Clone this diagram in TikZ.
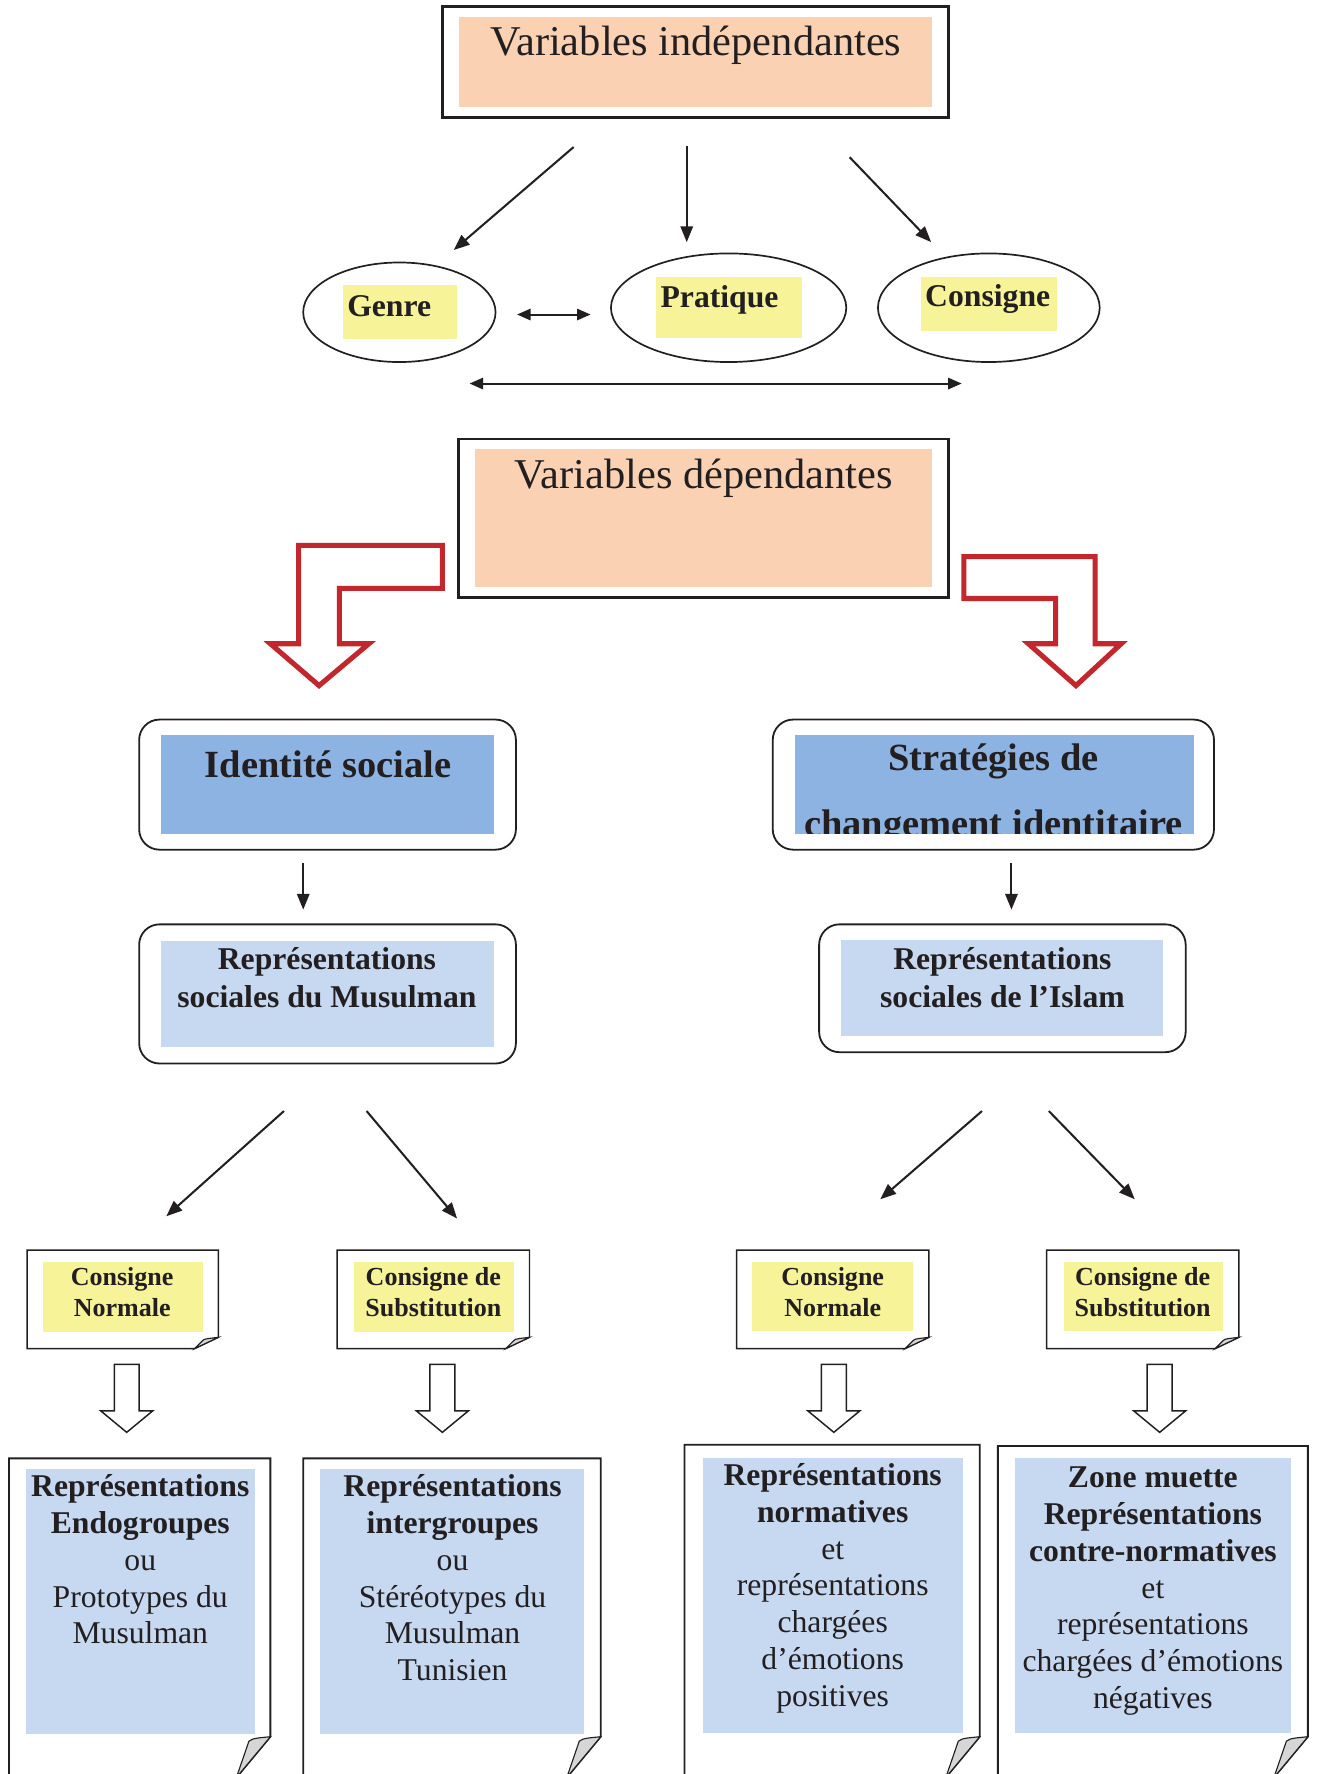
\documentclass[tikz,border=0pt]{standalone}
\usepackage{fontspec}
\setmainfont{Liberation Serif}
\usetikzlibrary{arrows.meta}
\usetikzlibrary{shapes.geometric}

\definecolor{peach}{RGB}{250,210,179}
\definecolor{lemon}{RGB}{246,243,153}
\definecolor{midblue}{RGB}{141,179,226}
\definecolor{paleblue}{RGB}{198,217,241}
\definecolor{redline}{RGB}{193,39,45}
\definecolor{ink}{RGB}{35,31,32}
\definecolor{flap}{RGB}{214,214,214}

\tikzset{
  arr/.style={-{Triangle[length=14pt,width=11pt]}, line width=1.8pt, draw=ink},
  dbl/.style={{Triangle[length=12pt,width=10pt]}-{Triangle[length=12pt,width=10pt]}, line width=1.8pt, draw=ink},
  frame/.style={draw=ink, line width=1.6pt},
  hollow/.style={draw=ink, line width=1.3pt, fill=white, line join=miter},
  redarrow/.style={draw=redline, line width=4.5pt, fill=white, line join=miter},
  oval/.style={ellipse, draw=ink, line width=1.5pt, inner sep=0pt},
  fold/.style={fill=flap, draw=ink, line width=1pt},
  title/.style={font=\fontsize{37.5}{44}\selectfont, text=ink, inner sep=0pt, anchor=base},
  varbf/.style={font=\bfseries\fontsize{28}{33}\selectfont, text=ink, inner sep=0pt, anchor=base},
  headbf/.style={font=\bfseries\fontsize{34}{40}\selectfont, text=ink, inner sep=0pt, anchor=base},
  subbf/.style={font=\bfseries\fontsize{28}{33.5}\selectfont, text=ink, inner sep=0pt, anchor=base, align=center},
  notebf/.style={font=\bfseries\fontsize{23}{28}\selectfont, text=ink, inner sep=0pt, anchor=base, align=center},
  reptext/.style={font=\fontsize{28}{32.5}\selectfont, text=ink, inner sep=0pt, anchor=base, align=center}
}

\begin{document}
\begin{tikzpicture}[x=1pt,y=-1pt]

\useasboundingbox (0,0) rectangle (1164,1568);

\draw [frame, line width=2.5pt] (391,6) rectangle (838,104);
\fill [peach] (406,15) rectangle (824,95);
\node[title] (vi) at (615,49) {Variables indépendantes};

\coordinate (s1) at (507,130);
\coordinate (e1) at (401,221);
\coordinate (s2) at (607,129);
\coordinate (e2) at (607,214);
\coordinate (s3) at (751,139);
\coordinate (e3) at (823,214);

\draw [arr] (s1) -- (e1);
\draw [arr] (s2) -- (e2);
\draw [arr] (s3) -- (e3);

\node[oval, minimum width=170pt, minimum height=88pt] (genre) at (353,276) {};
\node[oval, minimum width=208pt, minimum height=96pt] (pratique) at (644,272) {};
\node[oval, minimum width=196pt, minimum height=96pt] (consigne) at (874,272) {};

\fill [lemon] (303,252) rectangle (404,300);
\fill [lemon] (580,245) rectangle (709,299);
\fill [lemon] (814,245) rectangle (934,293);

\node[varbf] (tgenre) at (344,280) {Genre};
\node[varbf] (tpratique) at (636,272) {Pratique};
\node[varbf] (tconsigne) at (873,271) {Consigne};

\coordinate (d1) at (457,278);
\coordinate (d2) at (522,278);
\coordinate (d3) at (415,339);
\coordinate (d4) at (850,339);

\draw [dbl] (d1) -- (d2);
\draw [dbl] (d3) -- (d4);

\draw [frame, line width=2.5pt] (405,388) rectangle (838,528);
\fill [peach] (420,397) rectangle (824,519);
\node[title] (vd) at (622,432) {Variables dépendantes};

\draw [redarrow] (391,482) -- (264,482) -- (264,569) -- (239,569) -- (282,606) -- (326,569) -- (300,569) -- (300,520) -- (391,520) -- cycle;
\draw [redarrow] (852,492) -- (968,492) -- (968,569) -- (991,569) -- (951,606) -- (909,569) -- (933,569) -- (933,529) -- (852,529) -- cycle;

\draw [frame, rounded corners=18pt] (123,636) rectangle (456,751);
\fill [midblue] (142,650) rectangle (437,737);
\node[headbf] (idsoc) at (290,687) {Identité sociale};

\draw [frame, rounded corners=18pt] (683,636) rectangle (1073,751);
\fill [midblue] (703,650) rectangle (1055,737);
\node[headbf] (strat) at (878,681) {Stratégies de};
\begin{scope}
\clip (703,650) rectangle (1055,737);
\node[headbf] (chid) at (878,739) {changement identitaire};
\end{scope}

\coordinate (s4) at (268,763);
\coordinate (e4) at (268,804);
\coordinate (s5) at (894,763);
\coordinate (e5) at (894,804);

\draw [arr] (s4) -- (e4);
\draw [arr] (s5) -- (e5);

\draw [frame, rounded corners=18pt] (123,817) rectangle (456,940);
\fill [paleblue] (142,832) rectangle (437,925);
\node[subbf] (rsm) at (289,890.5) {Représentations\\sociales du Musulman};

\draw [frame, rounded corners=18pt] (724,817) rectangle (1048,930);
\fill [paleblue] (743,831) rectangle (1028,916);
\node[subbf] (rsi) at (886,890.5) {Représentations\\sociales de l’Islam};

\coordinate (s6) at (251,982);
\coordinate (e6) at (147,1075);
\coordinate (s7) at (324,982);
\coordinate (e7) at (404,1077);
\coordinate (s8) at (868,982);
\coordinate (e8) at (778,1060);
\coordinate (s9) at (927,982);
\coordinate (e9) at (1003,1060);

\draw [arr] (s6) -- (e6);
\draw [arr] (s7) -- (e7);
\draw [arr] (s8) -- (e8);
\draw [arr] (s9) -- (e9);

\draw [frame, line width=1.3pt] (24,1105) -- (193,1105) -- (193,1182) -- (172,1192) -- (24,1192) -- cycle;
\fill [lemon] (38,1115) rectangle (179,1177);
\draw [fold] (193,1182) .. controls (186,1183) and (180,1183) .. (179,1185) -- (172,1192) -- cycle;
\node[notebf] (cn1) at (108,1164) {Consigne\\Normale};

\draw [frame, line width=1.3pt] (298,1105) -- (468,1105) -- (468,1182) -- (447,1192) -- (298,1192) -- cycle;
\fill [lemon] (313,1115) rectangle (454,1177);
\draw [fold] (468,1182) .. controls (461,1183) and (455,1183) .. (454,1185) -- (447,1192) -- cycle;
\node[notebf] (cs1) at (383,1164) {Consigne de\\Substitution};

\draw [frame, line width=1.3pt] (651,1105) -- (821,1105) -- (821,1182) -- (800,1192) -- (651,1192) -- cycle;
\fill [lemon] (665,1115) rectangle (807,1176);
\draw [fold] (821,1182) .. controls (814,1183) and (808,1183) .. (807,1185) -- (800,1192) -- cycle;
\node[notebf] (cn2) at (736,1164) {Consigne\\Normale};

\draw [frame, line width=1.3pt] (925,1105) -- (1095,1105) -- (1095,1182) -- (1074,1192) -- (925,1192) -- cycle;
\fill [lemon] (940,1115) rectangle (1081,1176);
\draw [fold] (1095,1182) .. controls (1088,1183) and (1082,1183) .. (1081,1185) -- (1074,1192) -- cycle;
\node[notebf] (cs2) at (1010,1164) {Consigne de\\Substitution};

\draw [hollow] (101,1206) -- ++(22,0) -- ++(0,41) -- ++(12,0) -- ++(-23,19) -- ++(-23,-19) -- ++(12,0) -- cycle;
\draw [hollow] (380,1206) -- ++(22,0) -- ++(0,41) -- ++(12,0) -- ++(-23,19) -- ++(-23,-19) -- ++(12,0) -- cycle;
\draw [hollow] (726,1206) -- ++(22,0) -- ++(0,41) -- ++(12,0) -- ++(-23,19) -- ++(-23,-19) -- ++(12,0) -- cycle;
\draw [hollow] (1014,1206) -- ++(22,0) -- ++(0,41) -- ++(12,0) -- ++(-23,19) -- ++(-23,-19) -- ++(12,0) -- cycle;

\draw [frame] (8,1289) -- (239,1289) -- (239,1535) -- (209,1571) -- (8,1571) -- cycle;
\fill [paleblue] (23,1298) rectangle (225,1533);
\draw [fold] (239,1535) .. controls (231,1536) and (223,1536) .. (220,1539) -- (209,1571) -- cycle;
\node[reptext] (endo) at (124,1453) {\textbf{Représentations}\\\textbf{Endogroupes}\\ou\\Prototypes du\\Musulman};

\draw [frame] (268,1289) -- (531,1289) -- (531,1535) -- (501,1571) -- (268,1571) -- cycle;
\fill [paleblue] (283,1298) rectangle (516,1533);
\draw [fold] (531,1535) .. controls (523,1536) and (515,1536) .. (512,1539) -- (501,1571) -- cycle;
\node[reptext] (inter) at (400,1485.5) {\textbf{Représentations}\\\textbf{intergroupes}\\ou\\Stéréotypes du\\Musulman\\Tunisien};

\draw [frame] (605,1277) -- (866,1277) -- (866,1535) -- (836,1571) -- (605,1571) -- cycle;
\fill [paleblue] (621,1289) rectangle (851,1532);
\draw [fold] (866,1535) .. controls (858,1536) and (850,1536) .. (847,1539) -- (836,1571) -- cycle;
\node[reptext] (norm) at (736,1508) {\textbf{Représentations}\\\textbf{normatives}\\et\\représentations\\chargées\\d’émotions\\positives};

\draw [frame] (882,1278) -- (1156,1278) -- (1156,1535) -- (1126,1571) -- (882,1571) -- cycle;
\fill [paleblue] (897,1289) rectangle (1141,1532);
\draw [fold] (1156,1535) .. controls (1148,1536) and (1140,1536) .. (1137,1539) -- (1126,1571) -- cycle;
\node[reptext] (contre) at (1019,1510) {\textbf{Zone muette}\\\textbf{Représentations}\\\textbf{contre-normatives}\\et\\représentations\\chargées d’émotions\\négatives};

\end{tikzpicture}
\end{document}
